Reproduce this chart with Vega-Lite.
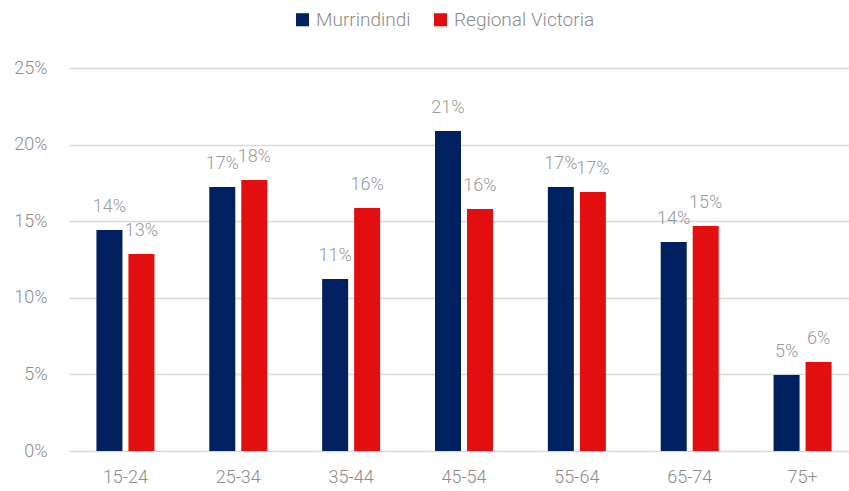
{
  "$schema": "https://vega.github.io/schema/vega-lite/v6.json",
  "autosize": "none",
  "width": 790,
  "height": 383,
  "padding": {"left": 69, "top": 68, "right": 0, "bottom": 40},
  "background": "white",
  "config": {
    "font": "Roboto",
    "view": {"stroke": null},
    "axis": {"labelFont": "Roboto", "labelFontWeight": 300, "labelFontSize": 18, "labelColor": "#8c8c8c", "ticks": false, "title": null},
    "legend": {"labelFont": "Roboto", "labelFontWeight": 300, "labelFontSize": 19, "labelColor": "#8c8c8c"}
  },
  "data": {
    "values": [
      {"age": "15-24", "series": "Murrindindi", "value": 0.1443},
      {"age": "15-24", "series": "Regional Victoria", "value": 0.1286},
      {"age": "25-34", "series": "Murrindindi", "value": 0.1723},
      {"age": "25-34", "series": "Regional Victoria", "value": 0.1769},
      {"age": "35-44", "series": "Murrindindi", "value": 0.1123},
      {"age": "35-44", "series": "Regional Victoria", "value": 0.1586},
      {"age": "45-54", "series": "Murrindindi", "value": 0.2089},
      {"age": "45-54", "series": "Regional Victoria", "value": 0.158},
      {"age": "55-64", "series": "Murrindindi", "value": 0.1723},
      {"age": "55-64", "series": "Regional Victoria", "value": 0.169},
      {"age": "65-74", "series": "Murrindindi", "value": 0.1364},
      {"age": "65-74", "series": "Regional Victoria", "value": 0.1469},
      {"age": "75+", "series": "Murrindindi", "value": 0.0496},
      {"age": "75+", "series": "Regional Victoria", "value": 0.0581}
    ]
  },
  "encoding": {
    "x": {"field": "age", "type": "nominal", "sort": null,
      "scale": {"paddingInner": 0.486, "paddingOuter": 0.243},
      "axis": {"labelAngle": 0, "domain": false, "labelPadding": 17}},
    "xOffset": {"field": "series", "type": "nominal", "sort": ["Murrindindi", "Regional Victoria"],
      "scale": {"paddingInner": 0.1875, "paddingOuter": 0}},
    "y": {"field": "value", "type": "quantitative",
      "scale": {"domain": [0, 0.25]},
      "axis": {"values": [0, 0.05, 0.1, 0.15, 0.2, 0.25], "format": ".0%", "domain": false, "gridColor": "#d9d9d9", "gridWidth": 1.5, "labelPadding": 22}}
  },
  "layer": [
    {
      "mark": {"type": "bar"},
      "encoding": {
        "color": {"field": "series", "type": "nominal",
          "scale": {"domain": ["Murrindindi", "Regional Victoria"], "range": ["#002060", "#E10F0F"]},
          "legend": {"title": null, "orient": "none", "direction": "horizontal", "legendX": 224, "legendY": -58, "symbolType": "square", "symbolSize": 170, "symbolStrokeWidth": 0, "columnPadding": 20, "labelOffset": 4}}
      }
    },
    {
      "mark": {"type": "text", "baseline": "alphabetic", "dy": -18, "fontSize": 18, "fontWeight": 300, "color": "#999999"},
      "encoding": {"text": {"field": "value", "type": "quantitative", "format": ".0%"}}
    }
  ]
}
